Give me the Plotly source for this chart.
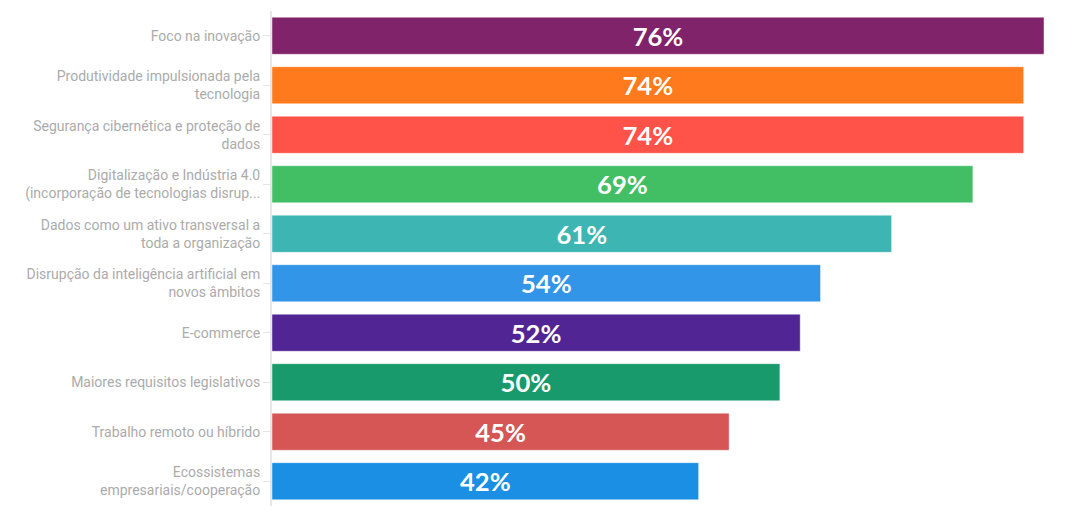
import plotly.graph_objects as go

categories = [
    "Foco na inovação",
    "Produtividade impulsionada pela<br>tecnologia",
    "Segurança cibernética e proteção de<br>dados",
    "Digitalização e Indústria 4.0<br>(incorporação de tecnologias disrup...",
    "Dados como um ativo transversal a<br>toda a organização",
    "Disrupção da inteligência artificial em<br>novos âmbitos",
    "E-commerce",
    "Maiores requisitos legislativos",
    "Trabalho remoto ou híbrido",
    "Ecossistemas<br>empresariais/cooperação",
]
values = [76, 74, 74, 69, 61, 54, 52, 50, 45, 42]
colors = ["#80236a", "#ff7a1c", "#ff5249", "#42be65", "#3db5b3",
          "#3395e8", "#522594", "#199a6c", "#d65555", "#1b8fe4"]
labels = [f"{v}%" for v in values]

fig = go.Figure(go.Bar(
    x=values,
    y=categories,
    orientation="h",
    marker=dict(color=colors, line=dict(color="rgba(255,255,255,0.45)", width=1)),
    text=labels,
    textposition="inside",
    insidetextanchor="middle",
    textangle=0,
    textfont=dict(family="Lato", size=28, color="white", weight="bold"),
    width=0.75,
    hoverinfo="skip",
))

fig.update_layout(
    width=1072, height=521,
    margin=dict(l=264, r=36, t=3, b=23),
    paper_bgcolor="white", plot_bgcolor="white",
    showlegend=False,
    uniformtext=dict(mode=False),
    xaxis=dict(range=[0, 76], visible=False, fixedrange=True),
    yaxis=dict(
        autorange="reversed",
        showline=True, linecolor="#e6e6e6", linewidth=2,
        ticks="outside", ticklen=7, tickcolor="#e6e6e6", tickwidth=1,
        tickfont=dict(family="Roboto", size=14, color="#ababab"),
        showgrid=False,
        ticklabelstandoff=0,
    ),
)

fig.write_html("out.html")
